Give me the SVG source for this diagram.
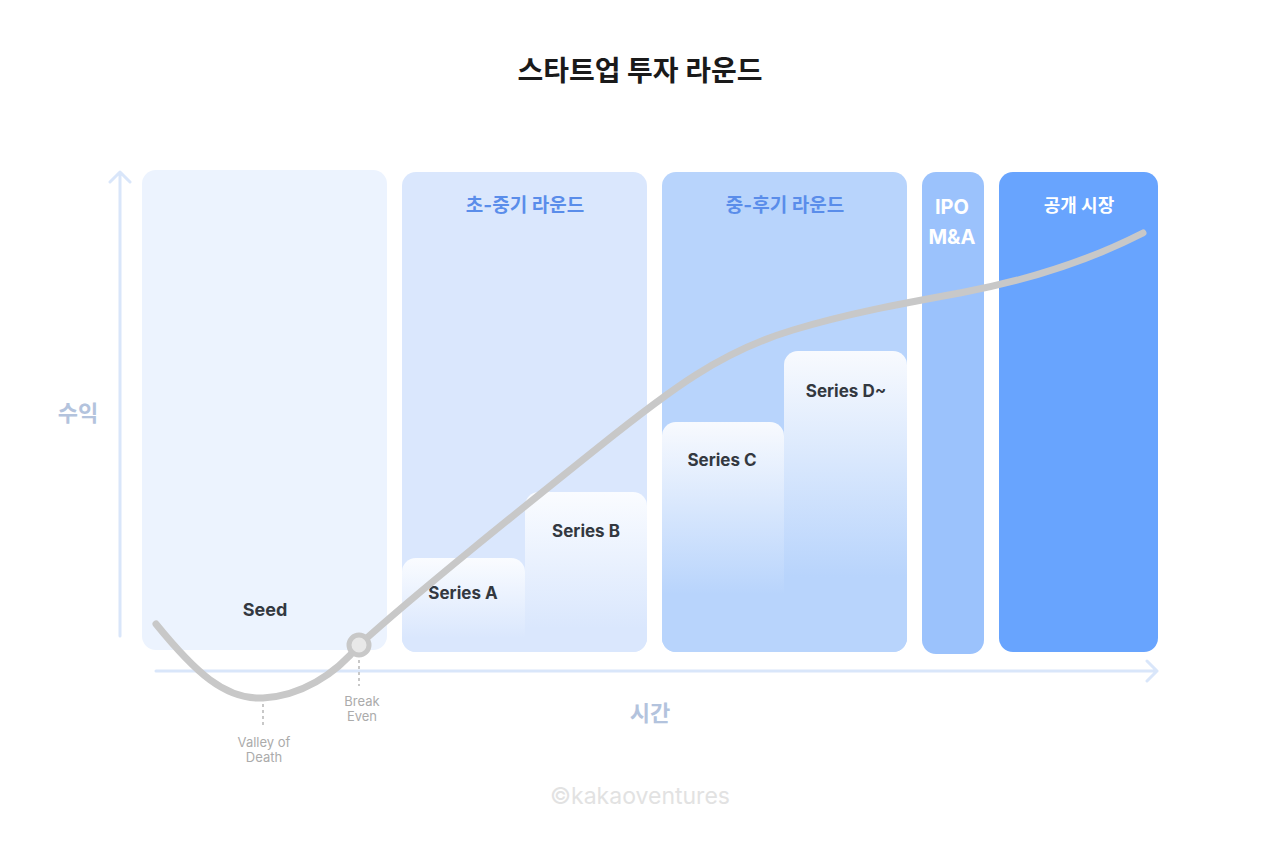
<svg xmlns="http://www.w3.org/2000/svg" width="1280" height="845" viewBox="0 0 1280 845">
<style>
.lbl{font-family:Inter,"Noto Sans CJK KR",sans-serif;font-weight:700;text-anchor:middle}
.ser{font-size:17px;fill:#333840}
.hd{font-size:19px;fill:#5A8DEA}
.wh{font-size:18px;fill:#ffffff}
.ax{font-size:22px;fill:#B3C3DD}
.note{font-family:Inter,"Noto Sans CJK KR",sans-serif;font-size:13px;fill:#ABABAB;text-anchor:middle}
.axis{stroke:#D9E6FA;stroke-width:3;fill:none;stroke-linecap:round;stroke-linejoin:round}
.dash{stroke:#C8C8C8;stroke-width:2;stroke-dasharray:3 3;fill:none}
</style>
<defs>
<linearGradient id="gA" x1="0" y1="0" x2="0" y2="1"><stop offset="0" stop-color="#FAFCFF"/><stop offset="0.85" stop-color="#DAE7FD"/></linearGradient>
<linearGradient id="gC" x1="0" y1="0" x2="0" y2="1"><stop offset="0" stop-color="#F8FAFE"/><stop offset="0.75" stop-color="#B8D4FC"/></linearGradient>
<clipPath id="c1"><rect x="402" y="172" width="245" height="480" rx="14"/></clipPath>
<clipPath id="c2"><rect x="662" y="172" width="245" height="480" rx="14"/></clipPath>
</defs>
<rect width="1280" height="845" fill="#ffffff"/>
<text x="640" y="81" class="lbl" style="font-size:28px;fill:#1a1a1a">스타트업 투자 라운드</text>

<g id="seed">
<rect x="142" y="170" width="245" height="480" rx="14" fill="#ECF3FE"/>
<text x="265" y="616" class="lbl ser" style="font-size:18px">Seed</text>
</g>
<g id="early">
<rect x="402" y="172" width="245" height="480" rx="14" fill="#DAE7FD"/>
<text x="525" y="212" class="lbl hd">초-중기 라운드</text>
<g clip-path="url(#c1)">
<path d="M402,572 a14,14 0 0 1 14,-14 h95 a14,14 0 0 1 14,14 V652 H402 Z" fill="url(#gA)"/>
<path d="M525,506 a14,14 0 0 1 14,-14 h94 a14,14 0 0 1 14,14 V652 H525 Z" fill="url(#gA)"/>
</g>
</g>
<g id="seriesA"><text x="463" y="599" class="lbl ser">Series A</text></g>
<g id="seriesB"><text x="586" y="537" class="lbl ser">Series B</text></g>
<g id="late">
<rect x="662" y="172" width="245" height="480" rx="14" fill="#B8D4FC"/>
<text x="785" y="212" class="lbl hd">중-후기 라운드</text>
<g clip-path="url(#c2)">
<path d="M662,436 a14,14 0 0 1 14,-14 h94 a14,14 0 0 1 14,14 V652 H662 Z" fill="url(#gC)"/>
<path d="M784,365 a14,14 0 0 1 14,-14 h95 a14,14 0 0 1 14,14 V652 H784 Z" fill="url(#gC)"/>
</g>
</g>
<g id="seriesC"><text x="722" y="466" class="lbl ser">Series C</text></g>
<g id="seriesD"><text x="846" y="397" class="lbl ser">Series D~</text></g>
<g id="ipo">
<rect x="922" y="172" width="62" height="482" rx="14" fill="#9BC2FC"/>
<text x="952" y="214" class="lbl wh" style="font-size:20px">IPO</text>
<text x="952" y="244" class="lbl wh" style="font-size:20px">M&amp;A</text>
</g>
<g id="public">
<rect x="999" y="172" width="159" height="480" rx="14" fill="#68A4FE"/>
<text x="1079" y="212" class="lbl wh">공개 시장</text>
</g>

<g id="connectors">
<path class="axis" d="M120,636 V172 M110,182 L120,172 L130,182"/>
<path class="axis" d="M156,671 H1157 M1147,661 L1157,671 L1147,681"/>
<path d="M156,624 C195,672 225,700 263,698 C300,696 335,675 359,645 C420,590 520,510 600,446 C670,390 720,352 793,330 C850,313 900,304 960,293 C1040,278 1100,255 1143,233" fill="none" stroke="#C8C8C8" stroke-width="7" stroke-linecap="round"/>
<circle cx="359" cy="645" r="10" fill="#E8E8E8" stroke="#C8C8C8" stroke-width="5"/>
<path class="dash" d="M263,704 V726 M359,660 V686"/>
</g>

<g id="labels">
<text x="78" y="421" class="lbl ax">수익</text>
<text x="650" y="721" class="lbl ax">시간</text>
<text x="264" y="747" class="note">Valley of</text>
<text x="264" y="762" class="note">Death</text>
<text x="362" y="706" class="note">Break</text>
<text x="362" y="721" class="note">Even</text>
<text x="640" y="804" class="lbl" style="font-size:23px;font-weight:400;fill:#E2E2E2">©kakaoventures</text>
</g>
</svg>
